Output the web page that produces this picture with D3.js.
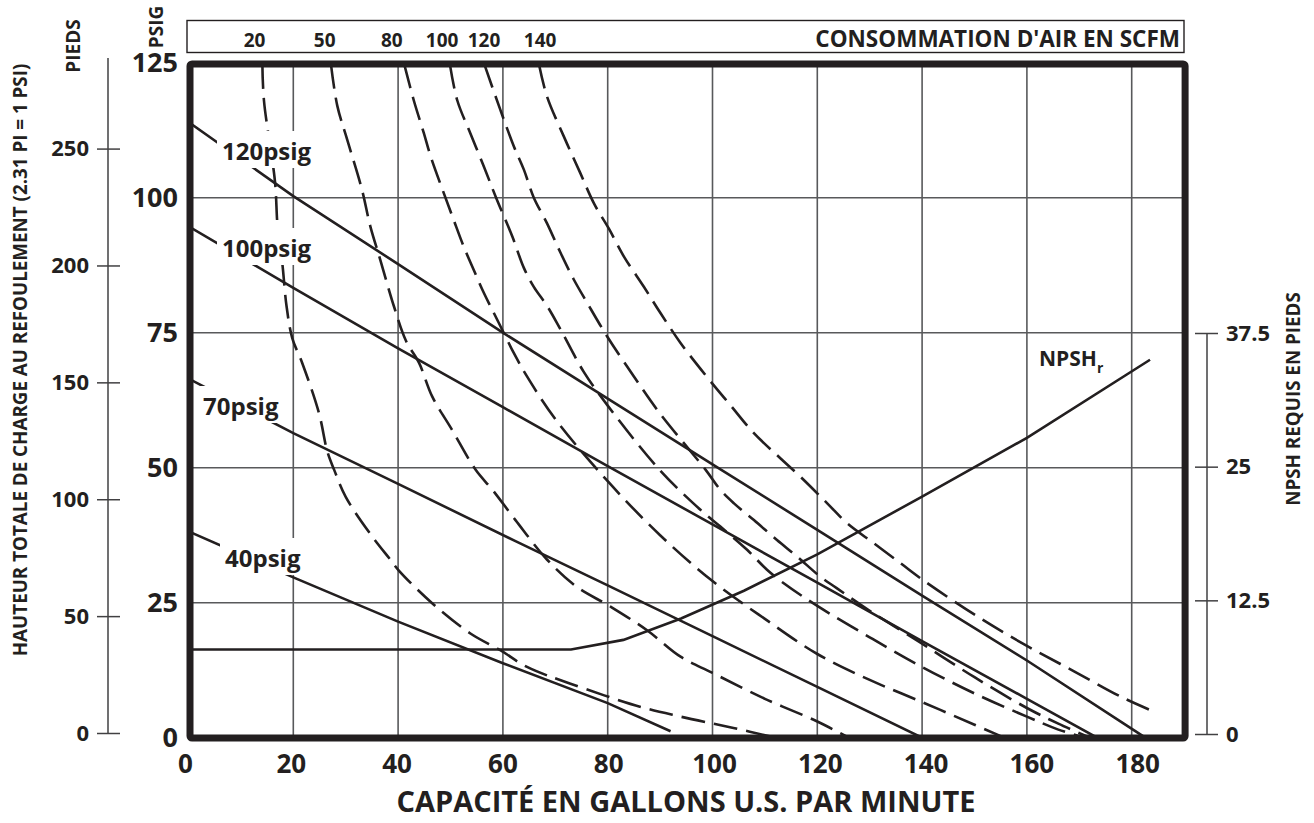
<!DOCTYPE html>
<html><head><meta charset="utf-8">
<script src="https://cdn.jsdelivr.net/npm/d3@7"></script>
<style>
body{margin:0;background:#fff}
svg{display:block}
text{font-family:"Open Sans",sans-serif;font-weight:700;fill:#231f20}
</style>
</head><body>
<svg id="c" width="1314" height="823"></svg>
<script>
// ---------- DATA ----------
const flowTicks = [0,20,40,60,80,100,120,140,160,180];
const psiTicks = [0,25,50,75,100,125];
const feetTicks = [0,50,100,150,200,250];
const npshTicks = [0,12.5,25,37.5];
const scfmLabels = ["20","50","80","100","120","140"];
const scfmLabelFlow = [12.6,26.0,38.8,48.4,56.4,67.1];

const psigNames = ["120psig","100psig","70psig","40psig"];
const psig120 = [[0,114],[20,100.3],[40,87.7],[60,75],[80,62.8],[100,50.6],[120,38.5],[140,26.3],[160,14.3],[182.6,0]];
const psig100 = [[0,94.7],[20,83.3],[40,72.1],[60,61.2],[80,50.3],[100,39.5],[120,28.7],[140,17.9],[160,7.2],[173.4,0]];
const psig70  = [[0,66.5],[20,56.4],[40,47],[62.4,36.4],[80,28.2],[100,18.8],[120,9.4],[140,0]];
const psig40  = [[0,38.2],[20,29.7],[40,21.5],[60,13.8],[80,6.4],[92,1.2]];

const scfm20  = [[14.1,124.6],[14.4,118],[16.5,103],[17,94.7],[17.9,87.9],[18.7,80],[19.8,74],[21.7,69.4],[24.9,60.1],[26.5,53],[27.8,49.6],[30,44.6],[35.1,37.2],[38.5,33],[40.1,31],[46.5,24.9],[53.8,19.3],[59.5,16.2],[64.6,13.1],[72.9,10],[86.3,5.7],[93.9,3.9],[104,1.8],[112,0]];
const scfm50  = [[27.2,124.6],[28.4,117],[30.3,110.7],[33.1,101.5],[34.7,94.7],[36.6,88.5],[39.2,79.9],[41.5,73.5],[44,69.4],[46.5,63.2],[50.3,57],[54.8,49.6],[58,45.9],[62.4,40.3],[68.4,33],[74,28],[80.5,24.3],[87.5,19.9],[93.9,15],[100,12],[110,7.2],[120,3],[126,0]];
const scfm80  = [[41.2,124.6],[43,118],[44.9,112],[46.2,107.7],[48.7,100.9],[50.6,95.9],[52.5,91],[54.4,86.7],[56.4,82.3],[58.3,78.6],[60.2,74.9],[62.1,71.2],[64.6,66.9],[70,59],[80,47.5],[90,37.5],[100,29],[110,22],[120,15.5],[130,10.7],[140,6.6],[150,2.4],[155,0.3]];
const scfm100 = [[49.9,124.6],[51.3,118],[53.8,111.9],[56.4,105.7],[58.7,100],[61.8,92.8],[64,87],[65.9,83.5],[68.4,80],[71,75.6],[75.4,67.8],[80,61.5],[90,49.5],[97.7,42.2],[101.5,39.1],[106.6,34.8],[110.4,31.1],[113.6,28.6],[120,24.4],[130,18.6],[140,13.1],[150,8.2],[160,3.9],[166,1.5],[171,0]];
const scfm120 = [[56.5,124.6],[59.5,116.3],[62.1,109.5],[64,105.2],[65.9,100],[68.4,95.3],[71,89.8],[73.5,84.9],[76.1,80.5],[79.9,74.3],[85,66.9],[90,60],[98.7,49.6],[101.5,45.9],[104.1,43.4],[107.9,40.3],[112.3,36.6],[116.2,33.5],[120.6,29.8],[123.7,27.7],[130,23.5],[140,17.4],[150,11.2],[160,5.5],[166,2.6],[172,0]];
const scfm140 = [[66.9,124.6],[68.4,118.8],[71.6,111.4],[74.8,104.5],[77.4,98.9],[80.2,94.3],[83.1,89.1],[86.9,83.5],[90.1,78.6],[93.9,73.1],[98.7,67.1],[103.4,61.6],[107.9,56.4],[113,51.7],[116.8,48.3],[121.9,43.4],[125.7,39.7],[130.8,36],[135.9,32.3],[140.6,28.9],[150.5,22.5],[160,17],[169,12.3],[177.9,7.6],[183.6,5.1]];

const npshr = [[0,7.9],[73,7.9],[83,8.8],[94,10.8],[106,13.4],[120,16.8],[140,22.2],[160,27.7],[183.5,35]];

// ---------- SCALES ----------
const svg = d3.select("#c");
const x = d3.scaleLinear().domain([0,190]).range([188.5,1184.1]);
const y = d3.scaleLinear().domain([0,125]).range([737.7,62.7]);
const yFeet = d3.scaleLinear().domain([0,288.75]).range([733,58]);
const yNpsh = d3.scaleLinear().domain([0,37.5]).range([734,333]);
const ink = "#231f20";

svg.append("clipPath").attr("id","plot").append("rect")
  .attr("x",x(0)).attr("y",y(125)).attr("width",x(190)-x(0)).attr("height",y(0)-y(125));

// grid
const grid = svg.append("g");
grid.selectAll("line.v").data(flowTicks.filter(d=>d>0)).enter().append("line")
  .attr("x1",d=>x(d)).attr("x2",d=>x(d)).attr("y1",y(125)).attr("y2",y(0))
  .attr("stroke","#58595b").attr("stroke-width",1.6);
grid.selectAll("line.h").data(psiTicks.filter(d=>d>0&&d<125)).enter().append("line")
  .attr("x1",x(0)).attr("x2",x(190)).attr("y1",d=>y(d)).attr("y2",d=>y(d))
  .attr("stroke","#58595b").attr("stroke-width",1.6);

const lineGen = d3.line().x(d=>x(d[0])).y(d=>y(d[1]));
const smooth = d3.line().x(d=>x(d[0])).y(d=>y(d[1])).curve(d3.curveCatmullRom.alpha(0.5));
const npshLine = d3.line().x(d=>x(d[0])).y(d=>yNpsh(d[1]));

const curves = svg.append("g").attr("clip-path","url(#plot)");
[scfm20,scfm50,scfm80,scfm100,scfm120,scfm140].forEach(s=>{
  curves.append("path").attr("d",smooth(s)).attr("fill","none")
    .attr("stroke",ink).attr("stroke-width",2.6).attr("stroke-dasharray","24,9");
});
[psig120,psig100,psig70,psig40].forEach(s=>{
  curves.append("path").attr("d",lineGen(s)).attr("fill","none")
    .attr("stroke",ink).attr("stroke-width",2.6);
});
curves.append("path").attr("d",npshLine(npshr)).attr("fill","none")
  .attr("stroke",ink).attr("stroke-width",2.6);

// psig labels with white backing
const labelPos = [[222,160],[222,257],[203,415],[225,567]];
psigNames.forEach((n,i)=>{
  const g = svg.append("g");
  const t = g.append("text").attr("x",labelPos[i][0]).attr("y",labelPos[i][1])
    .attr("font-size",24).text(n);
  const b = t.node().getBBox();
  g.insert("rect","text").attr("x",b.x-5).attr("y",b.y-3).attr("width",b.width+10).attr("height",b.height+4).attr("fill","#fff");
});

// NPSHr label
const nl = svg.append("text").attr("x",1039).attr("y",366).attr("font-size",21);
nl.append("tspan").text("NPSH");
nl.append("tspan").attr("font-size",14).attr("dy",7).text("r");

// frame
svg.append("rect").attr("x",x(0)+1.5).attr("y",y(125)+1.3).attr("width",x(190)-x(0)-0.5).attr("height",y(0)-y(125)-1)
  .attr("fill","none").attr("stroke",ink).attr("stroke-width",7).attr("rx",2);

// x tick labels
svg.selectAll("text.xt").data(flowTicks).enter().append("text")
  .attr("x",d=>x(d)).attr("dx",d=>d/180*9-3).attr("y",773).attr("text-anchor","middle").attr("font-size",26).text(d=>d);
// psi tick labels
svg.selectAll("text.yt").data(psiTicks).enter().append("text")
  .attr("x",178).attr("y",d=>y(d)).attr("dy","0.36em").attr("text-anchor","end").attr("font-size",27).text(d=>d);

// feet axis
const fa = svg.append("g").attr("transform","translate(108,0)");
fa.call(d3.axisLeft(yFeet).tickValues(feetTicks).tickSize(11).tickPadding(7).tickFormat(d3.format("d")));
fa.select(".domain").attr("d",`M0,${yFeet(0)}V${yFeet(288.75)}`).attr("stroke","#414042").attr("stroke-width",1.5);
fa.selectAll(".tick line").attr("x1",-11).attr("x2",12).attr("stroke","#414042").attr("stroke-width",1.5);
fa.selectAll(".tick text").attr("font-size",22).attr("font-family","Open Sans").attr("font-weight",700).attr("fill",ink).attr("x",-19);

// npsh axis
const na = svg.append("g").attr("transform","translate(1207,0)");
na.call(d3.axisRight(yNpsh).tickValues(npshTicks).tickSize(11).tickPadding(7).tickFormat(d=>d));
na.select(".domain").attr("d",`M0,${yNpsh(0)}V${yNpsh(37.5)}`).attr("stroke","#414042").attr("stroke-width",1.5);
na.selectAll(".tick line").attr("x1",-12).attr("x2",11).attr("stroke","#414042").attr("stroke-width",1.5);
na.selectAll(".tick text").attr("font-size",22).attr("font-family","Open Sans").attr("font-weight",700).attr("fill",ink).attr("x",19);

// top SCFM box
svg.append("rect").attr("x",187).attr("y",20.5).attr("width",997).attr("height",32)
  .attr("fill","none").attr("stroke",ink).attr("stroke-width",1.4);
svg.selectAll("text.st").data(scfmLabels).enter().append("text")
  .attr("x",(d,i)=>x(scfmLabelFlow[i])).attr("y",47).attr("text-anchor","middle").attr("font-size",19).text(d=>d);
svg.append("text").attr("x",1180).attr("y",47).attr("text-anchor","end").attr("font-size",22.5).text("CONSOMMATION D'AIR EN SCFM");

// axis titles
svg.append("text").attr("x",686).attr("y",812).attr("text-anchor","middle").attr("font-size",29).text("CAPACITÉ EN GALLONS U.S. PAR MINUTE");
svg.append("text").attr("transform","translate(27,360) rotate(-90)").attr("text-anchor","middle").attr("font-size",18.8).text("HAUTEUR TOTALE DE CHARGE AU REFOULEMENT (2.31 PI = 1 PSI)");
svg.append("text").attr("transform","translate(80,46) rotate(-90)").attr("text-anchor","middle").attr("font-size",19).text("PIEDS");
svg.append("text").attr("transform","translate(163,27) rotate(-90)").attr("text-anchor","middle").attr("font-size",19).text("PSIG");
svg.append("text").attr("transform","translate(1300,399) rotate(-90)").attr("text-anchor","middle").attr("font-size",18.8).text("NPSH REQUIS EN PIEDS");
</script>
</body></html>
